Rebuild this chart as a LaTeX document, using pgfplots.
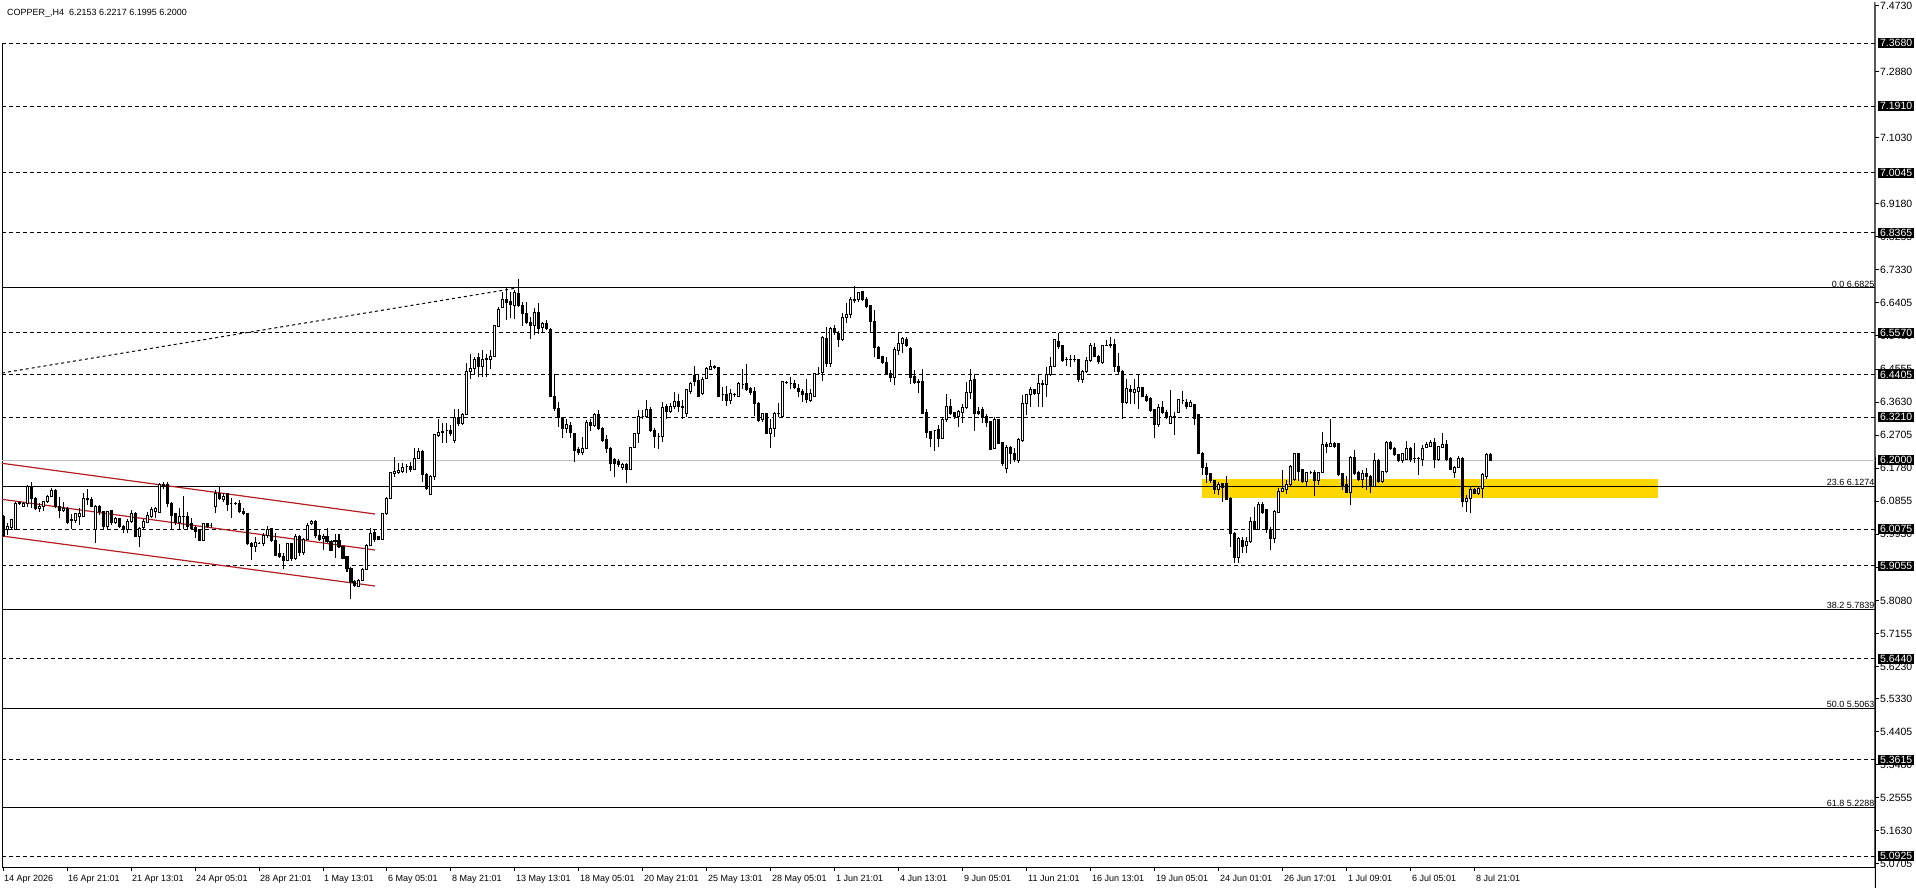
\documentclass[border=0pt]{standalone}
\usepackage{fontspec}
\setmainfont{Liberation Sans}
\usepackage{pgfplots}
\usepackage{pgfplotstable}
\pgfplotsset{compat=1.18}

\definecolor{chanred}{RGB}{180,30,35}
\definecolor{zone}{RGB}{255,215,0}
\definecolor{bidgray}{RGB}{192,192,192}

\pgfplotstableread{
i o h l c
0 6.044 6.047 5.986 5.991
1 6.007 6.024 5.991 6.016
2 6.012 6.037 6.005 6.035
3 6.007 6.084 6.005 6.078
4 6.080 6.086 6.076 6.083
5 6.072 6.084 6.070 6.080
6 6.080 6.131 6.070 6.126
7 6.126 6.138 6.066 6.094
8 6.094 6.098 6.061 6.066
9 6.066 6.080 6.056 6.072
10 6.072 6.086 6.059 6.084
11 6.084 6.103 6.080 6.100
12 6.100 6.122 6.096 6.115
13 6.115 6.119 6.066 6.070
14 6.070 6.098 6.038 6.059
15 6.059 6.084 6.056 6.066
16 6.066 6.070 6.022 6.026
17 6.035 6.050 6.007 6.031
18 6.031 6.053 6.026 6.050
19 6.044 6.066 6.019 6.050
20 6.044 6.108 6.042 6.094
21 6.094 6.119 6.075 6.089
22 6.089 6.096 6.070 6.072
23 6.007 6.075 5.970 6.072
24 6.072 6.075 6.047 6.056
25 6.056 6.059 6.005 6.016
26 6.016 6.059 6.005 6.056
27 6.059 6.061 6.019 6.026
28 6.026 6.042 6.022 6.038
29 6.038 6.040 6.012 6.016
30 6.016 6.019 5.998 6.010
31 6.007 6.035 5.998 6.028
32 6.028 6.061 6.026 6.052
33 6.052 6.056 5.986 5.988
34 5.988 6.014 5.958 6.010
35 6.012 6.035 6.007 6.028
36 6.026 6.056 6.024 6.047
37 6.044 6.070 6.038 6.063
38 6.056 6.070 6.038 6.066
39 6.053 6.137 6.052 6.131
40 6.131 6.140 6.119 6.126
41 6.131 6.140 6.070 6.080
42 6.080 6.084 6.007 6.047
43 6.050 6.053 6.019 6.026
44 6.026 6.066 6.007 6.044
45 6.044 6.100 6.007 6.042
46 6.044 6.056 6.007 6.016
47 6.022 6.038 6.007 6.010
48 6.012 6.016 5.982 6.000
49 6.003 6.007 5.975 5.977
50 5.977 6.026 5.975 6.024
51 6.024 6.026 6.012 6.016
52 6.019 6.024 6.012 6.019
53 6.072 6.117 6.052 6.106
54 6.106 6.126 6.089 6.094
55 6.091 6.108 6.084 6.098
56 6.108 6.109 6.059 6.075
57 6.080 6.094 6.040 6.080
58 6.080 6.084 6.075 6.079
59 6.080 6.089 6.052 6.056
60 6.056 6.066 6.047 6.050
61 6.050 6.052 5.963 5.966
62 5.968 5.972 5.921 5.960
63 5.960 5.986 5.944 5.970
64 5.968 5.972 5.966 5.968
65 5.966 5.996 5.960 5.991
66 5.991 6.016 5.984 6.007
67 6.010 6.012 5.972 5.975
68 5.975 5.996 5.932 5.935
69 5.938 5.966 5.928 5.932
70 5.932 5.940 5.895 5.921
71 5.921 5.970 5.919 5.966
72 5.966 5.970 5.919 5.926
73 5.926 5.994 5.921 5.986
74 5.986 5.991 5.932 5.942
75 5.942 5.982 5.935 5.979
76 5.979 6.024 5.977 6.019
77 6.022 6.033 6.019 6.028
78 6.028 6.033 5.984 5.991
79 5.991 6.005 5.975 5.979
80 5.980 5.994 5.949 5.988
81 5.986 6.012 5.968 5.972
82 5.972 5.977 5.947 5.949
83 5.977 5.994 5.926 5.972
84 5.977 5.994 5.956 5.958
85 5.958 5.960 5.923 5.926
86 5.930 5.932 5.888 5.898
87 5.898 5.902 5.811 5.858
88 5.860 5.865 5.846 5.851
89 5.848 5.867 5.846 5.865
90 5.865 5.898 5.863 5.895
91 5.895 5.966 5.893 5.963
92 5.963 6.010 5.960 5.996
93 5.998 6.005 5.972 5.979
94 5.986 5.988 5.977 5.979
95 5.979 6.053 5.977 6.050
96 6.050 6.096 6.047 6.094
97 6.094 6.168 6.091 6.165
98 6.164 6.210 6.152 6.168
99 6.166 6.192 6.162 6.171
100 6.168 6.193 6.164 6.180
101 6.182 6.190 6.164 6.182
102 6.184 6.196 6.168 6.173
103 6.175 6.234 6.173 6.206
104 6.206 6.234 6.203 6.224
105 6.224 6.229 6.140 6.159
106 6.159 6.164 6.117 6.122
107 6.103 6.159 6.102 6.156
108 6.156 6.274 6.145 6.271
109 6.269 6.315 6.266 6.277
110 6.282 6.304 6.249 6.278
111 6.283 6.305 6.248 6.283
112 6.283 6.299 6.268 6.274
113 6.255 6.345 6.248 6.320
114 6.320 6.345 6.296 6.304
115 6.302 6.332 6.299 6.329
116 6.329 6.473 6.327 6.448
117 6.448 6.498 6.429 6.457
118 6.457 6.490 6.443 6.483
119 6.488 6.501 6.434 6.464
120 6.464 6.509 6.434 6.481
121 6.485 6.498 6.432 6.481
122 6.483 6.509 6.457 6.490
123 6.490 6.579 6.488 6.576
124 6.574 6.630 6.572 6.623
125 6.628 6.672 6.625 6.649
126 6.649 6.681 6.593 6.641
127 6.644 6.672 6.597 6.637
128 6.632 6.677 6.595 6.671
129 6.667 6.708 6.630 6.632
130 6.634 6.644 6.576 6.611
131 6.611 6.644 6.582 6.585
132 6.587 6.602 6.539 6.578
133 6.578 6.625 6.551 6.613
134 6.613 6.639 6.554 6.569
135 6.571 6.588 6.555 6.583
136 6.583 6.593 6.565 6.569
137 6.567 6.569 6.376 6.378
138 6.380 6.443 6.339 6.345
139 6.345 6.364 6.294 6.320
140 6.320 6.322 6.262 6.290
141 6.290 6.317 6.276 6.299
142 6.297 6.308 6.262 6.277
143 6.274 6.276 6.196 6.227
144 6.229 6.236 6.215 6.221
145 6.221 6.266 6.215 6.234
146 6.234 6.313 6.231 6.306
147 6.306 6.315 6.283 6.297
148 6.297 6.332 6.294 6.329
149 6.329 6.341 6.285 6.290
150 6.290 6.292 6.252 6.255
151 6.257 6.271 6.220 6.232
152 6.234 6.238 6.171 6.192
153 6.201 6.206 6.152 6.192
154 6.196 6.203 6.182 6.187
155 6.180 6.192 6.173 6.187
156 6.187 6.192 6.137 6.175
157 6.175 6.238 6.173 6.236
158 6.236 6.277 6.234 6.274
159 6.274 6.341 6.248 6.324
160 6.324 6.341 6.317 6.324
161 6.324 6.369 6.322 6.343
162 6.343 6.350 6.280 6.283
163 6.283 6.290 6.234 6.266
164 6.268 6.277 6.232 6.268
165 6.268 6.364 6.252 6.348
166 6.350 6.358 6.317 6.336
167 6.336 6.361 6.332 6.350
168 6.350 6.392 6.345 6.364
169 6.364 6.387 6.336 6.350
170 6.350 6.369 6.317 6.347
171 6.330 6.401 6.322 6.397
172 6.392 6.420 6.386 6.415
173 6.438 6.464 6.408 6.420
174 6.423 6.439 6.378 6.380
175 6.386 6.432 6.383 6.427
176 6.429 6.462 6.427 6.457
177 6.455 6.481 6.453 6.462
178 6.462 6.467 6.457 6.461
179 6.459 6.462 6.376 6.380
180 6.383 6.406 6.367 6.383
181 6.383 6.408 6.352 6.367
182 6.367 6.401 6.359 6.386
183 6.385 6.389 6.376 6.383
184 6.378 6.420 6.376 6.415
185 6.411 6.457 6.401 6.411
186 6.414 6.470 6.395 6.397
187 6.401 6.406 6.383 6.389
188 6.392 6.404 6.324 6.359
189 6.359 6.364 6.308 6.311
190 6.315 6.333 6.308 6.330
191 6.332 6.333 6.274 6.276
192 6.276 6.315 6.234 6.290
193 6.290 6.336 6.266 6.330
194 6.330 6.360 6.322 6.332
195 6.324 6.423 6.322 6.420
196 6.418 6.423 6.414 6.417
197 6.414 6.434 6.401 6.414
198 6.416 6.425 6.401 6.404
199 6.401 6.414 6.378 6.392
200 6.392 6.399 6.364 6.383
201 6.386 6.429 6.361 6.369
202 6.367 6.401 6.364 6.387
203 6.378 6.445 6.376 6.442
204 6.443 6.460 6.439 6.443
205 6.445 6.548 6.423 6.544
206 6.541 6.574 6.462 6.471
207 6.471 6.574 6.462 6.569
208 6.569 6.579 6.551 6.557
209 6.555 6.563 6.518 6.537
210 6.537 6.613 6.535 6.600
211 6.600 6.639 6.583 6.607
212 6.607 6.658 6.597 6.651
213 6.651 6.688 6.641 6.647
214 6.651 6.672 6.644 6.669
215 6.672 6.675 6.647 6.651
216 6.651 6.658 6.625 6.630
217 6.632 6.635 6.557 6.588
218 6.588 6.621 6.490 6.516
219 6.516 6.520 6.483 6.485
220 6.490 6.492 6.470 6.473
221 6.473 6.490 6.439 6.442
222 6.442 6.453 6.420 6.432
223 6.432 6.516 6.411 6.509
224 6.507 6.555 6.495 6.527
225 6.527 6.546 6.501 6.541
226 6.539 6.546 6.518 6.520
227 6.513 6.516 6.415 6.432
228 6.436 6.453 6.414 6.417
229 6.420 6.429 6.389 6.419
230 6.420 6.457 6.330 6.332
231 6.333 6.345 6.262 6.277
232 6.280 6.283 6.236 6.262
233 6.283 6.285 6.227 6.283
234 6.285 6.299 6.238 6.262
235 6.262 6.320 6.259 6.315
236 6.313 6.387 6.308 6.352
237 6.352 6.373 6.327 6.332
238 6.333 6.336 6.317 6.322
239 6.324 6.341 6.292 6.336
240 6.333 6.358 6.304 6.348
241 6.348 6.420 6.345 6.389
242 6.389 6.457 6.373 6.423
243 6.425 6.442 6.283 6.332
244 6.336 6.350 6.327 6.330
245 6.341 6.350 6.305 6.320
246 6.324 6.330 6.292 6.305
247 6.308 6.311 6.229 6.231
248 6.234 6.320 6.231 6.315
249 6.315 6.317 6.246 6.248
250 6.249 6.252 6.184 6.190
251 6.178 6.243 6.164 6.236
252 6.236 6.240 6.190 6.218
253 6.220 6.234 6.196 6.201
254 6.199 6.262 6.193 6.257
255 6.255 6.383 6.252 6.358
256 6.358 6.387 6.327 6.383
257 6.383 6.406 6.350 6.399
258 6.399 6.401 6.383 6.386
259 6.387 6.439 6.350 6.414
260 6.411 6.425 6.350 6.415
261 6.411 6.460 6.378 6.439
262 6.439 6.488 6.436 6.464
263 6.464 6.539 6.460 6.537
264 6.532 6.557 6.511 6.518
265 6.520 6.523 6.476 6.479
266 6.483 6.490 6.464 6.482
267 6.482 6.495 6.462 6.483
268 6.483 6.495 6.476 6.482
269 6.483 6.485 6.420 6.427
270 6.427 6.453 6.417 6.448
271 6.448 6.490 6.445 6.479
272 6.479 6.529 6.476 6.520
273 6.516 6.527 6.488 6.492
274 6.490 6.495 6.471 6.476
275 6.473 6.523 6.470 6.520
276 6.520 6.537 6.516 6.521
277 6.522 6.544 6.513 6.523
278 6.523 6.539 6.448 6.464
279 6.464 6.499 6.443 6.448
280 6.448 6.453 6.317 6.361
281 6.361 6.429 6.359 6.401
282 6.399 6.411 6.358 6.392
283 6.389 6.429 6.358 6.397
284 6.392 6.439 6.343 6.404
285 6.404 6.406 6.376 6.378
286 6.380 6.387 6.364 6.367
287 6.373 6.376 6.336 6.339
288 6.343 6.345 6.262 6.299
289 6.299 6.359 6.294 6.348
290 6.348 6.367 6.330 6.333
291 6.333 6.341 6.317 6.324
292 6.304 6.397 6.302 6.324
293 6.320 6.336 6.271 6.324
294 6.333 6.371 6.332 6.369
295 6.367 6.395 6.359 6.367
296 6.361 6.373 6.345 6.350
297 6.350 6.369 6.348 6.361
298 6.355 6.359 6.299 6.318
299 6.327 6.330 6.218 6.220
300 6.220 6.224 6.159 6.180
301 6.180 6.192 6.136 6.159
302 6.162 6.164 6.136 6.143
303 6.143 6.145 6.106 6.119
304 6.119 6.140 6.103 6.131
305 6.134 6.137 6.084 6.124
306 6.134 6.156 6.090 6.091
307 6.094 6.096 5.958 5.996
308 5.996 6.000 5.914 5.928
309 5.928 5.986 5.914 5.982
310 5.975 5.986 5.942 5.960
311 5.961 5.986 5.942 5.972
312 5.972 6.042 5.970 6.028
313 6.028 6.070 6.005 6.007
314 6.007 6.084 6.005 6.075
315 6.075 6.084 6.050 6.053
316 6.061 6.063 5.997 6.007
317 6.007 6.014 5.949 5.982
318 5.982 6.061 5.970 6.056
319 6.053 6.122 6.052 6.112
320 6.112 6.173 6.111 6.122
321 6.119 6.145 6.106 6.131
322 6.131 6.187 6.128 6.184
323 6.147 6.221 6.143 6.220
324 6.220 6.221 6.143 6.168
325 6.173 6.175 6.136 6.140
326 6.140 6.168 6.126 6.165
327 6.165 6.171 6.162 6.165
328 6.165 6.173 6.100 6.143
329 6.143 6.168 6.131 6.165
330 6.165 6.280 6.164 6.243
331 6.243 6.252 6.220 6.238
332 6.238 6.315 6.236 6.248
333 6.248 6.252 6.234 6.238
334 6.246 6.249 6.156 6.159
335 6.162 6.164 6.117 6.128
336 6.131 6.156 6.108 6.109
337 6.109 6.212 6.075 6.208
338 6.208 6.229 6.159 6.162
339 6.165 6.171 6.143 6.145
340 6.147 6.173 6.122 6.162
341 6.162 6.178 6.117 6.154
342 6.156 6.159 6.108 6.128
343 6.126 6.221 6.124 6.199
344 6.199 6.203 6.137 6.140
345 6.140 6.171 6.137 6.168
346 6.168 6.255 6.165 6.249
347 6.249 6.255 6.229 6.234
348 6.234 6.238 6.212 6.215
349 6.215 6.218 6.196 6.199
350 6.199 6.221 6.193 6.218
351 6.203 6.255 6.201 6.234
352 6.234 6.238 6.196 6.203
353 6.205 6.248 6.193 6.206
354 6.206 6.210 6.159 6.205
355 6.203 6.243 6.184 6.234
356 6.236 6.252 6.234 6.243
357 6.240 6.257 6.236 6.249
358 6.249 6.262 6.178 6.203
359 6.203 6.240 6.199 6.238
360 6.236 6.277 6.234 6.243
361 6.243 6.257 6.199 6.201
362 6.206 6.210 6.173 6.175
363 6.165 6.184 6.150 6.180
364 6.180 6.212 6.178 6.206
365 6.206 6.208 6.068 6.084
366 6.084 6.103 6.056 6.094
367 6.094 6.124 6.053 6.119
368 6.117 6.122 6.106 6.108
369 6.108 6.126 6.103 6.122
370 6.122 6.164 6.094 6.159
371 6.156 6.221 6.147 6.215
372 6.2153 6.2217 6.1995 6.2000
}\candles

% candle glyph: drawn at (i, open); offsets in pt (357.3 pt per 1.0 of price)
\pgfdeclareplotmark{candle}{%
  \pgfsetlinewidth{1pt}%
  \pgfsetstrokecolor{black}%
  \pgfpathmoveto{\pgfqpoint{0pt}{\candlelow pt}}%
  \pgfpathlineto{\pgfqpoint{0pt}{\candlehigh pt}}%
  \pgfusepath{stroke}%
  \pgfpathrectangle{\pgfqpoint{-1pt}{0pt}}{\pgfqpoint{2pt}{\candlebody pt}}%
  \ifdim\candlebody pt<0pt
    \pgfsetfillcolor{black}%
  \else
    \pgfsetfillcolor{white}%
  \fi
  \pgfusepath{fill,stroke}%
}

\newcommand{\lblfont}{\fontsize{9}{10}\selectfont}
\newcommand{\yfont}{\fontsize{10.5}{11}\selectfont}

\begin{document}
\begin{tikzpicture}
\useasboundingbox (0,0) rectangle (1916pt,888pt);
\begin{axis}[
  at={(2pt,21pt)}, anchor=south west,
  scale only axis, width=1873pt, height=865pt,
  xmin=-0.25, xmax=468, ymin=5.06182, ymax=7.48275,
  axis line style={draw=none},
  clip=false,
  tick align=outside,
  major tick length=4pt,
  tick style={black, line width=1pt},
  xtick pos=bottom, ytick pos=right,
  yticklabel pos=right,
  xtick={0,16,...,368},
  xticklabels={14 Apr 2026,16 Apr 21:01,21 Apr 13:01,24 Apr 05:01,28 Apr 21:01,1 May 13:01,6 May 05:01,8 May 21:01,13 May 13:01,18 May 05:01,20 May 21:01,25 May 13:01,28 May 05:01,1 Jun 21:01,4 Jun 13:01,9 Jun 05:01,11 Jun 21:01,16 Jun 13:01,19 Jun 05:01,24 Jun 01:01,26 Jun 17:01,1 Jul 09:01,6 Jul 05:01,8 Jul 21:01},
  xticklabel style={font=\lblfont, anchor=base west, inner sep=0pt, xshift=1pt, yshift=-10pt},
  ytick={7.4730,7.2880,7.1030,6.9180,6.8255,6.7330,6.6405,6.5480,6.4555,6.3630,6.2705,6.1780,6.0855,5.9930,5.9005,5.8080,5.7155,5.6230,5.5330,5.4405,5.3480,5.2555,5.1630,5.0705},
  yticklabels={7.4730,7.2880,7.1030,6.9180,6.8255,6.7330,6.6405,6.5480,6.4555,6.3630,6.2705,6.1780,6.0855,5.9930,5.9005,5.8080,5.7155,5.6230,5.5330,5.4405,5.3480,5.2555,5.1630,5.0705},
  yticklabel style={font=\yfont, anchor=west, inner sep=0pt, xshift=1pt},
]
% frame
\draw[black, line width=1pt] (rel axis cs:0,0) -- (rel axis cs:1,0);
\draw[black, line width=1pt] (rel axis cs:1,0) -- (rel axis cs:1,1) -- ++(0,3pt);
\draw[black, line width=1pt] (rel axis cs:0,0) -- (axis cs:-0.25,7.368);

% support / resistance zone
\addplot[fill=zone, draw=none] coordinates {(299.7,6.0954) (413.75,6.0954) (413.75,6.1478) (299.7,6.1478)} --cycle;

% dashed horizontal levels
\addplot[black, line width=1pt, dash pattern=on 4pt off 3pt] coordinates {(-0.25,7.3680) (468,7.3680)};
\addplot[black, line width=1pt, dash pattern=on 4pt off 3pt] coordinates {(-0.25,7.1910) (468,7.1910)};
\addplot[black, line width=1pt, dash pattern=on 4pt off 3pt] coordinates {(-0.25,7.0045) (468,7.0045)};
\addplot[black, line width=1pt, dash pattern=on 4pt off 3pt] coordinates {(-0.25,6.8365) (468,6.8365)};
\addplot[black, line width=1pt, dash pattern=on 4pt off 3pt] coordinates {(-0.25,6.5570) (468,6.5570)};
\addplot[black, line width=1pt, dash pattern=on 4pt off 3pt] coordinates {(-0.25,6.4405) (468,6.4405)};
\addplot[black, line width=1pt, dash pattern=on 4pt off 3pt] coordinates {(-0.25,6.3210) (468,6.3210)};
\addplot[black, line width=1pt, dash pattern=on 4pt off 3pt] coordinates {(-0.25,6.0075) (468,6.0075)};
\addplot[black, line width=1pt, dash pattern=on 4pt off 3pt] coordinates {(-0.25,5.9055) (468,5.9055)};
\addplot[black, line width=1pt, dash pattern=on 4pt off 3pt] coordinates {(-0.25,5.6440) (468,5.6440)};
\addplot[black, line width=1pt, dash pattern=on 4pt off 3pt] coordinates {(-0.25,5.3615) (468,5.3615)};
\addplot[black, line width=1pt, dash pattern=on 4pt off 3pt] coordinates {(-0.25,5.0925) (468,5.0925)};

% Fibonacci levels
\addplot[black, line width=1pt] coordinates {(-0.25,6.6825) (468,6.6825)};
\addplot[black, line width=1pt] coordinates {(-0.25,6.1274) (468,6.1274)};
\addplot[black, line width=1pt] coordinates {(-0.25,5.7839) (468,5.7839)};
\addplot[black, line width=1pt] coordinates {(-0.25,5.5063) (468,5.5063)};
\addplot[black, line width=1pt] coordinates {(-0.25,5.2288) (468,5.2288)};
% bid line
\addplot[bidgray, line width=1pt] coordinates {(-0.25,6.2000) (468,6.2000)};

% Fibonacci base (trend) line
\addplot[black, line width=1pt, dash pattern=on 3pt off 3pt] coordinates {(-0.25,6.4444) (128.5,6.6823)};

% descending channel
\addplot[chanred, line width=1.2pt] coordinates {(-0.25,6.1917) (93,6.0498)};
\addplot[chanred, line width=1.2pt] coordinates {(-0.25,6.0909) (93,5.9490)};
\addplot[chanred, line width=1.2pt] coordinates {(-0.25,5.9882) (93,5.8483)};

% candlesticks
\addplot[only marks, mark=candle, black, line width=1pt,
  visualization depends on={(\thisrow{l}-\thisrow{o})*357.3 \as \candlelow},
  visualization depends on={(\thisrow{h}-\thisrow{o})*357.3 \as \candlehigh},
  visualization depends on={(\thisrow{c}-\thisrow{o})*357.3 \as \candlebody},
] table[x=i, y=o] {\candles};

% Fibonacci labels
\node[anchor=south east, inner sep=0.5pt, font=\lblfont] at (axis cs:468,6.6825) {0.0 6.6825};
\node[anchor=south east, inner sep=0.5pt, font=\lblfont] at (axis cs:468,6.1274) {23.6 6.1274};
\node[anchor=south east, inner sep=0.5pt, font=\lblfont] at (axis cs:468,5.7839) {38.2 5.7839};
\node[anchor=south east, inner sep=0.5pt, font=\lblfont] at (axis cs:468,5.5063) {50.0 5.5063};
\node[anchor=south east, inner sep=0.5pt, font=\lblfont] at (axis cs:468,5.2288) {61.8 5.2288};

% anchors for price boxes
\coordinate (p1) at (axis cs:468,7.3680);
\coordinate (p2) at (axis cs:468,7.1910);
\coordinate (p3) at (axis cs:468,7.0045);
\coordinate (p4) at (axis cs:468,6.8365);
\coordinate (p5) at (axis cs:468,6.5570);
\coordinate (p6) at (axis cs:468,6.4405);
\coordinate (p7) at (axis cs:468,6.3210);
\coordinate (p8) at (axis cs:468,6.2000);
\coordinate (p9) at (axis cs:468,6.0075);
\coordinate (p10) at (axis cs:468,5.9055);
\coordinate (p11) at (axis cs:468,5.6440);
\coordinate (p12) at (axis cs:468,5.3615);
\coordinate (p13) at (axis cs:468,5.0925);
\end{axis}
\tikzset{pbox/.style={anchor=west, fill=black, text=white, inner sep=0pt, minimum width=36pt, minimum height=10pt, xshift=3pt, font=\yfont}}
\node[pbox] at (p1) {7.3680};
\node[pbox] at (p2) {7.1910};
\node[pbox] at (p3) {7.0045};
\node[pbox] at (p4) {6.8365};
\node[pbox] at (p5) {6.5570};
\node[pbox] at (p6) {6.4405};
\node[pbox] at (p7) {6.3210};
\node[pbox] at (p8) {6.2000};
\node[pbox] at (p9) {6.0075};
\node[pbox] at (p10) {5.9055};
\node[pbox] at (p11) {5.6440};
\node[pbox] at (p12) {5.3615};
\node[pbox] at (p13) {5.0925};
\node[anchor=base west, inner sep=0pt, font=\lblfont] at (7pt,872.5pt) {COPPER\_,H4\ \ 6.2153 6.2217 6.1995 6.2000};
\end{tikzpicture}
\end{document}
